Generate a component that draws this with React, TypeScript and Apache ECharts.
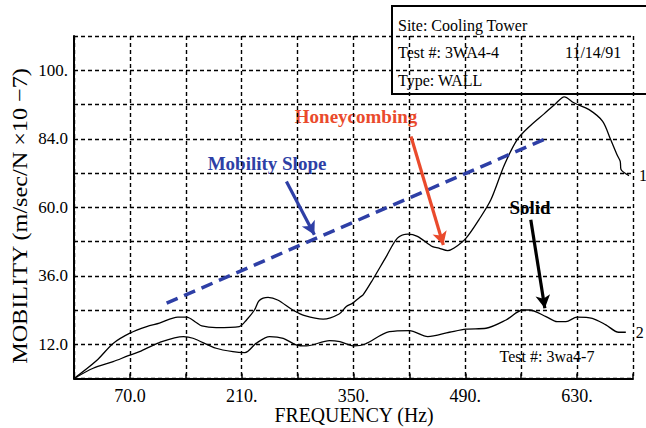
import React, { useEffect, useRef } from "react";
import * as echarts from "echarts";

// Frequency axis ticks (Hz) and their printed labels
const xTickValues = [70, 210, 350, 490, 630];
const xTickLabels = ["70.0", "210.", "350.", "490.", "630."];

// Mobility axis ticks and their printed labels
const yTickValues = [12, 36, 60, 84, 108];
const yTickLabels = ["12.0", "36.0", "60.0", "84.0", "100."];

// Test 3WA4-4 (wall with honeycombing) — [frequency, mobility]
const curveHoneycomb: number[][] = [
  [0, 0], [28, 6.2], [49, 12.3], [70, 15.9], [91, 18.2], [107, 19.4], [130, 21.5],
  [141, 21.5], [153, 19.6], [160, 18.4], [178, 17.8], [207, 18.2], [216, 20.5],
  [226, 24], [232, 27.3], [243, 28.4], [255, 27.5], [274, 24], [289, 22], [312, 20.8],
  [332, 22.6], [341, 25.2], [349, 26.4], [358, 28.5], [362, 29.3], [374, 34.6],
  [391, 42.7], [405, 49.2], [418, 50.6], [430, 49.8], [449, 46.2], [457, 45.7],
  [468, 44.8], [476, 45.7], [491, 49.2], [507, 55.6], [522, 62.6], [539, 74.9],
  [555, 83.7], [570, 88.2], [589, 92.8], [602, 96], [614, 98.7], [626, 96.6],
  [645, 94.2], [662, 90.1], [672, 83.7], [680, 78.4], [684, 76.1], [685, 73.2],
  [695, 71.1],
];

// Test 3wa4-7 (solid wall) — [frequency, mobility]
const curveSolid: number[][] = [
  [0, 0], [24, 3.6], [49, 5.9], [68, 8], [82, 9.4], [107, 12.6], [137, 14.7],
  [149, 14.1], [178, 10.6], [199, 9.4], [214, 9.1], [228, 12.3], [245, 14.7],
  [262, 14.1], [278, 11.8], [291, 11.4], [320, 13.3], [333, 12.9], [351, 11.4],
  [364, 12], [395, 16.4], [420, 16.8], [443, 14.7], [470, 16.2], [491, 17.3],
  [516, 17.6], [541, 20.5], [562, 24], [570, 24], [591, 21.7], [605, 19.9],
  [616, 19.9], [630, 21.5], [649, 21.1], [666, 18.8], [682, 16.2], [691, 16.2],
];

// Mobility slope trend line
const slopeLine: number[][] = [[116, 26.4], [589, 83.8]];

// Callout arrows: [from, to] in data coordinates
const slopeArrow: number[][] = [[266, 69], [301, 50.4]];
const honeycombArrow: number[][] = [[422, 84.8], [462.5, 46.8]];
const solidArrow: number[][] = [[572, 55.6], [589.6, 24.6]];

const SERIF = "'Liberation Serif', 'Times New Roman', serif";
const BLUE = "#2e3fa6";
const RED = "#ea4a2c";

function arrowMark(pts: number[][], color: string) {
  return {
    silent: true,
    symbol: ["none", "arrow"],
    symbolSize: [11, 13],
    label: { show: false },
    lineStyle: { color, width: 3.2, type: "solid" },
    data: [[{ coord: pts[0] }, { coord: pts[1] }]],
  };
}

function lookup(values: number[], labels: string[]) {
  return (v: number) => {
    const i = values.findIndex((t) => Math.abs(t - v) < 1e-6);
    return i >= 0 ? labels[i] : "";
  };
}

function curveEndLabel(text: string) {
  return {
    show: true,
    formatter: text,
    distance: 10,
    color: "#000",
    fontFamily: SERIF,
    fontSize: 16,
  };
}

export default function App() {
  const ref = useRef<HTMLDivElement>(null);

  useEffect(() => {
    if (!ref.current) return;
    const chart = echarts.init(ref.current, null, { renderer: "svg" });
    const grid = { type: [4, 3], color: "#000", width: 1.4 };

    chart.setOption({
      animation: false,
      backgroundColor: "#fff",
      grid: { left: 74, right: 13, top: 36, bottom: 49.5, containLabel: false },
      xAxis: {
        type: "value",
        min: 0,
        max: 700,
        interval: 70,
        axisLine: { show: true, lineStyle: { color: "#000", width: 2 } },
        axisTick: { show: true, inside: true, length: 5, lineStyle: { color: "#000", width: 1.5 } },
        splitLine: { show: true, lineStyle: grid },
        axisLabel: {
          formatter: lookup(xTickValues, xTickLabels),
          color: "#000",
          fontFamily: SERIF,
          fontSize: 18,
          margin: 8,
        },
      },
      yAxis: {
        type: "value",
        min: 0,
        max: 120,
        interval: 12,
        axisLine: { show: true, lineStyle: { color: "#000", width: 2 } },
        axisTick: { show: false },
        splitLine: { show: true, lineStyle: grid },
        axisLabel: {
          formatter: lookup(yTickValues, yTickLabels),
          color: "#000",
          fontFamily: SERIF,
          fontSize: 17,
          margin: 6,
        },
      },
      series: [
        {
          name: "3WA4-4",
          type: "line",
          data: curveHoneycomb,
          smooth: 0.3,
          showSymbol: false,
          itemStyle: { color: "#000" },
          lineStyle: { color: "#000", width: 1.3 },
          endLabel: curveEndLabel("1"),
          markLine: arrowMark(honeycombArrow, RED),
          z: 3,
        },
        {
          name: "3wa4-7",
          type: "line",
          data: curveSolid,
          smooth: 0.3,
          showSymbol: false,
          itemStyle: { color: "#000" },
          lineStyle: { color: "#000", width: 1.3 },
          endLabel: curveEndLabel("2"),
          markLine: arrowMark(solidArrow, "#000"),
          z: 3,
        },
        {
          name: "Mobility Slope",
          type: "line",
          data: slopeLine,
          showSymbol: false,
          itemStyle: { color: BLUE },
          lineStyle: { color: BLUE, width: 3.5, type: [12, 7] },
          markLine: arrowMark(slopeArrow, BLUE),
          z: 4,
        },
      ],
      graphic: [
        {
          type: "text",
          x: 354,
          y: 414.5,
          scaleX: 0.9,
          style: {
            text: "FREQUENCY (Hz)",
            fontFamily: SERIF,
            fontSize: 22,
            fill: "#000",
            textAlign: "center",
            textVerticalAlign: "middle",
          },
        },
        {
          type: "text",
          x: 19.5,
          y: 216,
          rotation: Math.PI / 2,
          scaleX: 1.1,
          style: {
            text: "MOBILITY (m/sec/N \u00d710 \u22127)",
            fontFamily: SERIF,
            fontSize: 22,
            fill: "#000",
            textAlign: "center",
            textVerticalAlign: "middle",
          },
        },
        {
          type: "text",
          x: 356,
          y: 116,
          style: {
            text: "Honeycombing",
            fontFamily: SERIF,
            fontWeight: "bold",
            fontSize: 19,
            fill: RED,
            textAlign: "center",
            textVerticalAlign: "middle",
          },
        },
        {
          type: "text",
          x: 267,
          y: 163,
          style: {
            text: "Mobility Slope",
            fontFamily: SERIF,
            fontWeight: "bold",
            fontSize: 19,
            fill: BLUE,
            textAlign: "center",
            textVerticalAlign: "middle",
          },
        },
        {
          type: "text",
          x: 530,
          y: 207,
          style: {
            text: "Solid",
            fontFamily: SERIF,
            fontWeight: "bold",
            fontSize: 19,
            fill: "#000",
            textAlign: "center",
            textVerticalAlign: "middle",
          },
        },
        {
          type: "text",
          x: 547,
          y: 356.5,
          style: {
            text: "Test #: 3wa4-7",
            fontFamily: SERIF,
            fontSize: 16,
            fill: "#000",
            textAlign: "center",
            textVerticalAlign: "middle",
          },
        },
        {
          type: "group",
          z: 100,
          children: [
            {
              type: "rect",
              shape: { x: 392, y: 6, width: 262, height: 88 },
              style: { fill: "#fff", stroke: "#000", lineWidth: 2 },
            },
            {
              type: "text",
              x: 398,
              y: 25,
              style: {
                text: "Site: Cooling Tower",
                fontFamily: SERIF,
                fontSize: 16,
                fill: "#000",
                textVerticalAlign: "middle",
              },
            },
            {
              type: "text",
              x: 398,
              y: 52,
              style: {
                text: "Test #: 3WA4-4",
                fontFamily: SERIF,
                fontSize: 16,
                fill: "#000",
                textVerticalAlign: "middle",
              },
            },
            {
              type: "text",
              x: 565,
              y: 52,
              style: {
                text: "11/14/91",
                fontFamily: SERIF,
                fontSize: 16,
                fill: "#000",
                textVerticalAlign: "middle",
              },
            },
            {
              type: "text",
              x: 398,
              y: 80,
              style: {
                text: "Type: WALL",
                fontFamily: SERIF,
                fontSize: 16,
                fill: "#000",
                textVerticalAlign: "middle",
              },
            },
          ],
        },
      ],
    });

    return () => chart.dispose();
  }, []);

  return (
    <div
      ref={ref}
      style={{ position: "absolute", left: 0, top: 0, width: 646, height: 428 }}
    />
  );
}
